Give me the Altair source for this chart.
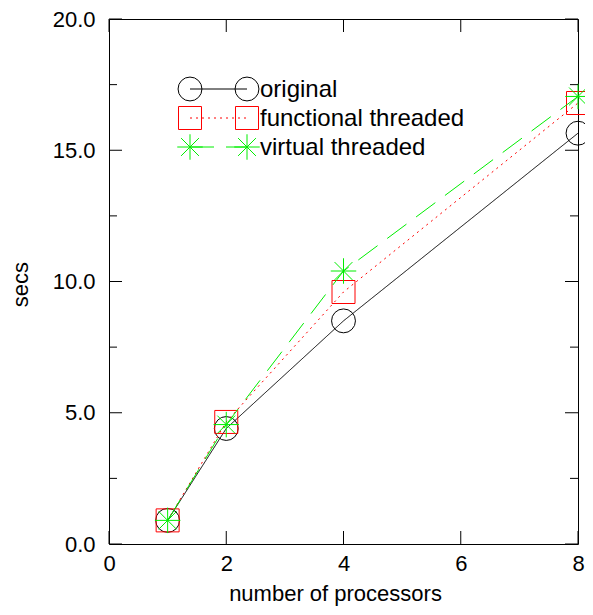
import altair as alt
import pandas as pd

# ---- data ----
procs = [1, 2, 4, 8]
original = [0.9, 4.4, 8.5, 15.65]
functional = [0.9, 4.65, 9.6, 16.8]
virtual = [0.9, 4.55, 10.4, 17.05]
series_names = ["original", "functional threaded", "virtual threaded"]
x_ticks = [0, 2, 4, 6, 8]
y_ticks = [0, 5, 10, 15, 20]
y_minor = [2.5, 7.5, 12.5, 17.5]

# ---- styling ----
PAD_L, PAD_T, PAD_R, PAD_B = 101, 11, 7, 63
W, H = 469, 525
FONT = "Liberation Sans"
FS = 22
LEG_FS = 24
STAR = "M-1,0L1,0M0,-1L0,1M-0.7,-0.7L0.7,0.7M-0.7,0.7L0.7,-0.7"
styles = [
    dict(color="#000000", dash=[1, 0], shape="circle", size=570),
    dict(color="#ff0000", dash=[2, 4], shape="square", size=529),
    dict(color="#00ee00", dash=[24, 12], shape=STAR, size=650),
]
values = [original, functional, virtual]

xs = alt.Scale(domain=[0, 8], nice=False, zero=False)
ys = alt.Scale(domain=[0, 20], nice=False, zero=False)

x_axis = alt.Axis(values=x_ticks, format="d", ticks=False, domain=False, grid=False,
                  labelPadding=9, labelFontSize=FS, labelFont=FONT, labelColor="black",
                  title="number of processors", titleFont=FONT, titleFontSize=FS,
                  titleFontWeight="normal", titleColor="black", titleX=226, titleY=56,
                  titleBaseline="alphabetic", labelFlush=False)
y_axis = alt.Axis(values=y_ticks, format=".1f", ticks=False, domain=False, grid=False,
                  labelPadding=14, labelFontSize=FS, labelFont=FONT, labelColor="black",
                  title="secs", titleFont=FONT, titleFontSize=FS, titleFontWeight="normal",
                  titleColor="black", titleX=-82, titleY=265, titleAngle=270,
                  titleBaseline="alphabetic", labelFlush=False)


def X():
    return alt.X("procs:Q", scale=xs, axis=x_axis)


def Y():
    return alt.Y("secs:Q", scale=ys, axis=y_axis)


layers = []

# series
for name, vals, st in zip(series_names, values, styles):
    df = pd.DataFrame({"procs": procs, "secs": vals, "series": name})
    layers.append(alt.Chart(df).mark_line(color=st["color"], strokeDash=st["dash"],
                                          strokeWidth=1).encode(x=X(), y=Y()))
    layers.append(alt.Chart(df).mark_point(shape=st["shape"], size=st["size"], filled=False,
                                           color=st["color"], strokeWidth=1, opacity=1).encode(
        x=X(), y=Y()))

# inward ticks (left/right/top/bottom)
ymaj = pd.DataFrame({"secs": y_ticks})
ymin = pd.DataFrame({"secs": y_minor})
xmaj = pd.DataFrame({"procs": x_ticks})
for df, ln in [(ymaj, 13), (ymin, 8)]:
    layers.append(alt.Chart(df).mark_rule(color="black", strokeWidth=1).encode(
        y=Y(), x=alt.value(0), x2=alt.value(ln)))
    layers.append(alt.Chart(df).mark_rule(color="black", strokeWidth=1).encode(
        y=Y(), x=alt.value(W - ln), x2=alt.value(W)))
layers.append(alt.Chart(xmaj).mark_rule(color="black", strokeWidth=1).encode(
    x=X(), y=alt.value(H - 13), y2=alt.value(H)))
layers.append(alt.Chart(xmaj).mark_rule(color="black", strokeWidth=1).encode(
    x=X(), y=alt.value(0), y2=alt.value(13)))

# legend drawn inside the plot
for i, (name, st) in enumerate(zip(series_names, styles)):
    ly = 70 + 29 * i
    one = pd.DataFrame({"series": [name]})
    layers.append(alt.Chart(one).mark_rule(color=st["color"], strokeDash=st["dash"],
                                           strokeWidth=1).encode(
        x=alt.value(81), x2=alt.value(138), y=alt.value(ly)))
    for lx in (81, 138):
        layers.append(alt.Chart(one).mark_point(shape=st["shape"], size=st["size"], filled=False,
                                                color=st["color"], strokeWidth=1, opacity=1).encode(
            x=alt.value(lx), y=alt.value(ly)))
    layers.append(alt.Chart(one).mark_text(align="left", baseline="middle", font=FONT,
                                           fontSize=LEG_FS, color="black").encode(
        x=alt.value(151), y=alt.value(ly + 1), text="series:N"))

chart = alt.layer(*layers).properties(
    width=W, height=H,
    autosize=alt.AutoSizeParams(type="none"),
    padding={"left": PAD_L, "top": PAD_T, "right": PAD_R, "bottom": PAD_B},
    background="white",
).configure_view(stroke="black", strokeWidth=1)

chart.save("out.html", embed_options={"renderer": "svg", "actions": False})
